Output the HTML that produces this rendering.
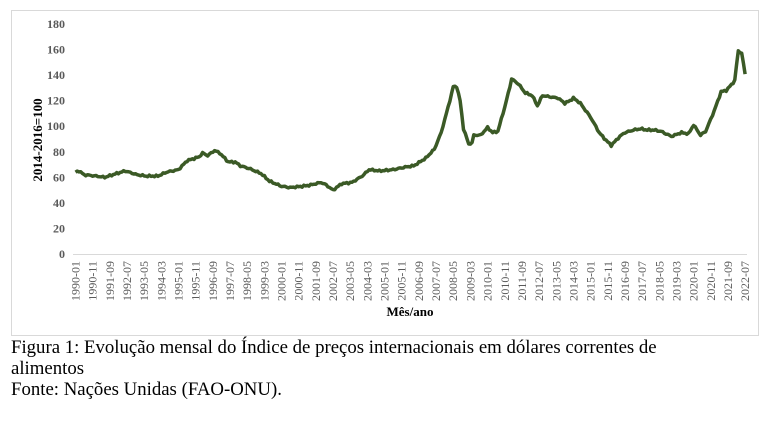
<!DOCTYPE html>
<html><head><meta charset="utf-8"><style>
html,body{margin:0;padding:0;background:#fff;width:768px;height:424px;overflow:hidden}
.cap{position:absolute;left:11px;font-family:"Liberation Serif","Times New Roman",serif;font-size:18.8px;color:#000;line-height:21px;white-space:nowrap}
</style></head><body>
<svg width="768" height="424" style="position:absolute;left:0;top:0">
<rect x="11.5" y="10.5" width="747" height="325" fill="#fff" stroke="#d9d9d9" stroke-width="1"/>
<g id="yl" font-family="Liberation Serif,Times New Roman,serif" font-size="12" font-weight="bold" fill="#595959" text-anchor="end"></g>
<line x1="73" y1="254.5" x2="747" y2="254.5" stroke="#d9d9d9" stroke-width="1"/>
<g id="xl" font-family="Liberation Serif,Times New Roman,serif" font-size="12" fill="#595959" text-anchor="end"></g>
<text transform="translate(42,140) rotate(-90)" text-anchor="middle" font-family="Liberation Serif,Times New Roman,serif" font-size="13" font-weight="bold" fill="#000">2014-2016=100</text>
<text x="410" y="316" text-anchor="middle" font-family="Liberation Serif,Times New Roman,serif" font-size="13" font-weight="bold" fill="#000">Mês/ano</text>
<polyline id="ln" fill="none" stroke="#3b5a26" stroke-width="3.5" stroke-linejoin="round"/>
</svg>
<div class="cap" style="top:337px">Figura 1: Evolução mensal do Índice de preços internacionais em dólares correntes de<br>alimentos<br>Fonte: Nações Unidas (FAO-ONU).</div>
<script>
var NS="http://www.w3.org/2000/svg";
function Y(v){return 254-v*1.278;}
function X(m){return 75.5+m*1.717;}
var yl=document.getElementById('yl');
for(var v=0;v<=180;v+=20){var t=document.createElementNS(NS,'text');t.setAttribute('x',65);t.setAttribute('y',Y(v)+4);t.textContent=v;yl.appendChild(t);}
var xl=document.getElementById('xl');
for(var m=0;m<=390;m+=10){var yr=1990+Math.floor(m/12),mo=m%12+1;var t=document.createElementNS(NS,'text');
t.setAttribute('transform','translate('+(X(m)+4)+',261) rotate(-90)');t.textContent=yr+'-'+(mo<10?'0':'')+mo;xl.appendChild(t);}
var K=[["1990-01",64],["1990-03",65],["1990-06",62],["1991-01",61],["1991-06",60],["1992-01",63],["1992-06",65],["1993-01",62],["1993-06",61],["1994-01",61],["1994-06",64],["1995-01",66],["1995-06",73],["1996-01",76],["1996-03",79],["1996-06",77],["1996-10",81],["1997-01",79],["1997-06",72],["1997-10",72],["1998-01",69],["1998-06",67],["1999-01",63],["1999-06",57],["2000-01",53],["2000-06",52],["2001-01",53],["2001-06",54],["2001-12",56],["2002-03",54],["2002-07",50],["2002-12",55],["2003-06",56],["2003-12",61],["2004-04",66],["2004-10",65],["2005-06",66],["2006-01",68],["2006-06",69],["2007-01",75],["2007-06",82],["2007-10",95],["2008-01",110],["2008-04",125],["2008-05",131],["2008-07",131],["2008-09",120],["2008-11",98],["2009-02",86],["2009-04",87],["2009-05",93],["2009-09",93],["2010-01",99],["2010-04",95],["2010-07",96],["2010-11",115],["2011-02",131],["2011-03",137],["2011-07",133],["2011-11",126],["2012-03",124],["2012-06",116],["2012-09",124],["2013-01",123],["2013-06",122],["2013-10",118],["2014-01",120],["2014-03",122],["2014-07",118],["2015-01",107],["2015-06",95],["2015-10",89],["2016-01",85],["2016-06",92],["2016-09",95],["2017-02",97],["2017-06",98],["2017-10",97],["2018-02",97],["2018-06",96],["2018-12",92],["2019-06",95],["2019-10",94],["2020-01",101],["2020-05",93],["2020-08",96],["2021-01",112],["2021-05",127],["2021-08",128],["2021-12",134],["2022-01",136],["2022-03",159],["2022-05",157],["2022-07",141]];
var P=K.map(function(k){var a=k[0].split('-');return [(+a[0]-1990)*12+(+a[1]-1),k[1]];});
var pts=[];
for(var m=0;m<=390;m++){var i=0;while(i<P.length-2&&P[i+1][0]<m)i++;var a=P[i],b=P[i+1];var f=(m-a[0])/(b[0]-a[0]);f=Math.max(0,Math.min(1,f));
var v=a[1]+(b[1]-a[1])*f+0.8*Math.sin(m*2.3)*Math.sin(m*0.7);
pts.push(X(m).toFixed(1)+','+Y(v).toFixed(1));}
document.getElementById('ln').setAttribute('points',pts.join(' '));
</script>
</body></html>
